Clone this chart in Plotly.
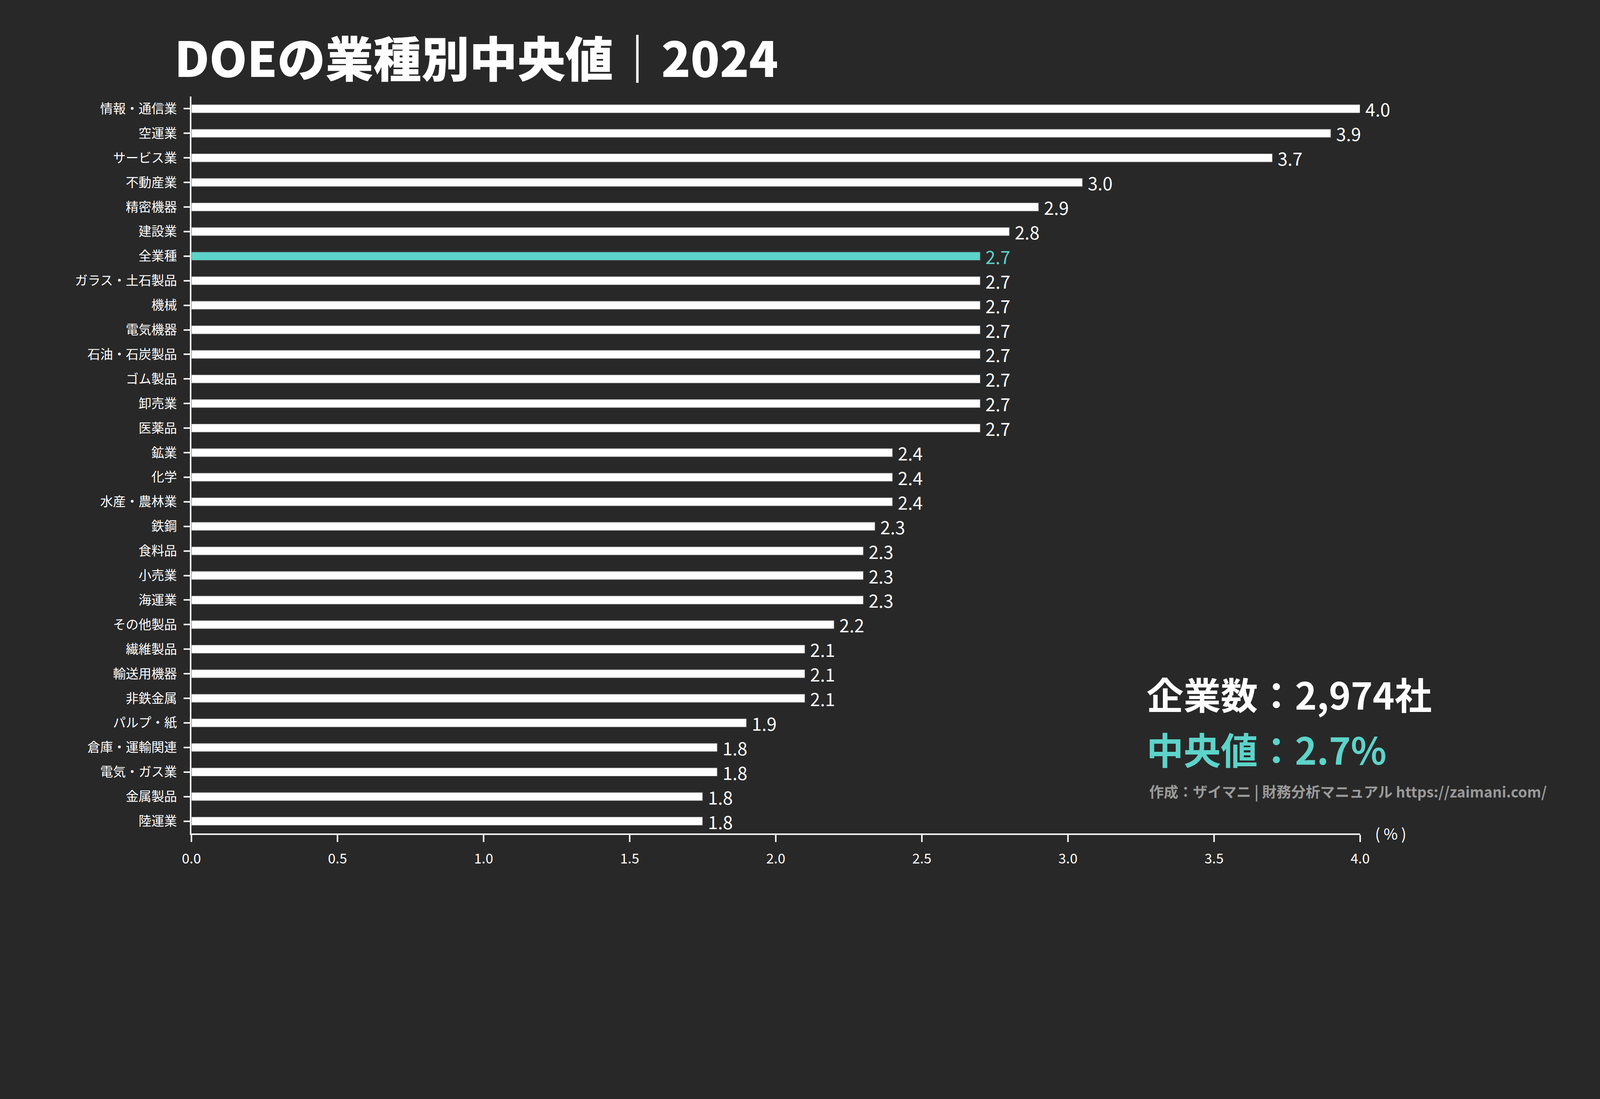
import plotly.graph_objects as go

# ---- data ----
categories = [
    "情報・通信業", "空運業", "サービス業", "不動産業", "精密機器", "建設業", "全業種",
    "ガラス・土石製品", "機械", "電気機器", "石油・石炭製品", "ゴム製品", "卸売業", "医薬品",
    "鉱業", "化学", "水産・農林業", "鉄鋼", "食料品", "小売業", "海運業", "その他製品",
    "繊維製品", "輸送用機器", "非鉄金属", "パルプ・紙", "倉庫・運輸関連", "電気・ガス業",
    "金属製品", "陸運業",
]
values = [
    4.0, 3.9, 3.7, 3.05, 2.9, 2.8, 2.7,
    2.7, 2.7, 2.7, 2.7, 2.7, 2.7, 2.7,
    2.4, 2.4, 2.4, 2.34, 2.3, 2.3, 2.3, 2.2,
    2.1, 2.1, 2.1, 1.9, 1.8, 1.8,
    1.75, 1.75,
]
highlight = "全業種"
x_ticks = [0.0, 0.5, 1.0, 1.5, 2.0, 2.5, 3.0, 3.5, 4.0]
x_ticklabels = ["0.0", "0.5", "1.0", "1.5", "2.0", "2.5", "3.0", "3.5", "4.0"]
title_text = "DOEの業種別中央値｜2024"
company_text = "企業数：2,974社"
median_text = "中央値：2.7%"
credit_text = "作成：ザイマニ | 財務分析マニュアル https://zaimani.com/"
unit_text = "( % )"

# ---- style ----
BG = "#282828"
WHITE = "#ffffff"
AXIS = "#f2f2f2"
TEAL = "#5dd3c9"
GRAY = "#9a9a9a"
FONT = "Noto Sans CJK JP"

# design is in 5000x2814 screen px; page is rendered with devicePixelRatio ~1.2207
S = 4096 / 5000
DW, DH = 5000, 2814
L, R, T, B = 598, 750, 302, 209
plot_w = DW - L - R
plot_h = DH - T - B


def s(v):
    return v * S


def px_x(px):
    return (px - L) / plot_w


def px_y(py):
    return (DH - B - py) / plot_h


colors = [TEAL if c == highlight else WHITE for c in categories]
labels = [" " + f"{v:.1f}" for v in values]

fig = go.Figure(
    go.Bar(
        x=values,
        y=categories,
        orientation="h",
        marker=dict(color=colors, line=dict(color="#444444", width=s(2))),
        text=labels,
        textposition="outside",
        constraintext="none",
        cliponaxis=False,
        textfont=dict(family=FONT, size=s(56), color=colors),
        hoverinfo="skip",
    )
)

fig.update_layout(
    width=round(s(DW)),
    height=round(s(DH)),
    margin=dict(l=s(L), r=s(R), t=s(T), b=s(B), pad=0),
    paper_bgcolor=BG,
    plot_bgcolor=BG,
    bargap=0.65,
    showlegend=False,
    font=dict(family=FONT, color=WHITE),
    title=dict(
        text=title_text,
        x=545 / DW,
        y=1 - 188 / DH,
        xref="container",
        yref="container",
        xanchor="left",
        yanchor="middle",
        font=dict(family=FONT, size=s(150), color=WHITE, weight=900),
    ),
)

fig.update_xaxes(
    range=[0, 4.0],
    tickvals=x_ticks,
    ticktext=x_ticklabels,
    showline=True,
    linecolor=AXIS,
    linewidth=s(5),
    ticks="outside",
    ticklen=s(22),
    tickwidth=s(5),
    tickcolor=AXIS,
    tickfont=dict(family=FONT, size=s(43), color=WHITE),
    ticklabelstandoff=int(round(s(16))),
    showgrid=False,
    zeroline=False,
)
fig.update_yaxes(
    categoryorder="array",
    categoryarray=categories,
    autorange="reversed",
    showline=True,
    linecolor=AXIS,
    linewidth=s(5),
    ticks="outside",
    ticklen=s(20),
    tickwidth=s(5),
    tickcolor=AXIS,
    tickfont=dict(family=FONT, size=s(40), color=WHITE),
    ticklabelstandoff=int(round(s(12))),
    showgrid=False,
    zeroline=False,
)

fig.add_annotation(
    text=company_text, xref="paper", yref="paper",
    x=px_x(3580), y=px_y(2168), xanchor="left", yanchor="middle",
    showarrow=False, font=dict(family=FONT, size=s(116), color=WHITE, weight="bold"),
)
fig.add_annotation(
    text=median_text, xref="paper", yref="paper",
    x=px_x(3580), y=px_y(2340), xanchor="left", yanchor="middle",
    showarrow=False, font=dict(family=FONT, size=s(116), color=TEAL, weight="bold"),
)
fig.add_annotation(
    text=credit_text, xref="paper", yref="paper",
    x=px_x(3589), y=px_y(2473), xanchor="left", yanchor="middle",
    showarrow=False, font=dict(family=FONT, size=s(45.5), color=GRAY, weight="bold"),
)
fig.add_annotation(
    text=unit_text, xref="paper", yref="paper",
    x=px_x(4345), y=px_y(2603), xanchor="center", yanchor="middle",
    showarrow=False, font=dict(family=FONT, size=s(48), color=WHITE),
)

fig.write_html(
    "out.html",
    config={"displayModeBar": False},
    post_script="document.body.style.margin='0px';"
                "document.body.style.background='#282828';"
                "document.documentElement.style.background='#282828';",
)
